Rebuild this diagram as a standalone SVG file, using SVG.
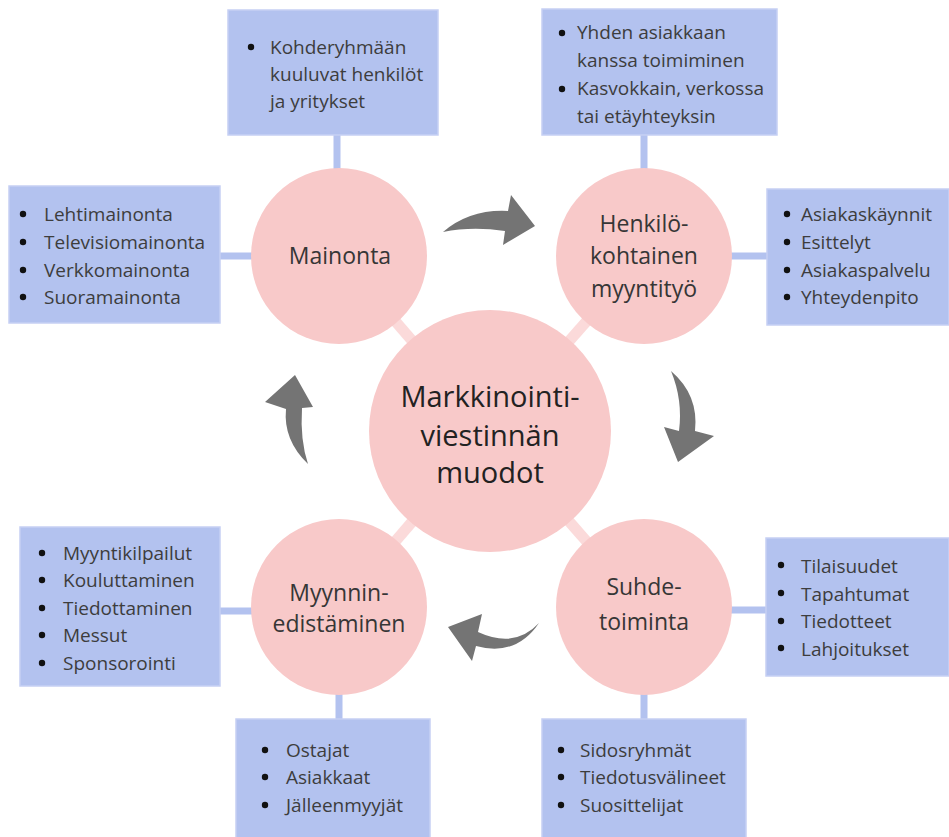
<svg xmlns="http://www.w3.org/2000/svg" width="949" height="837" viewBox="0 0 949 837">
<style>
.box{fill:#b3c2ef;stroke:#c6d0f4;stroke-width:1.5}
.bt{font-family:"Open Sans","Noto Sans",sans-serif;font-size:19px;fill:#3d3d3d}
.ct{font-family:"Open Sans","Noto Sans",sans-serif;font-size:23px;fill:#363636;text-anchor:middle}
.mt{font-family:"Open Sans","Noto Sans",sans-serif;font-size:29px;fill:#222;text-anchor:middle}
.circ{fill:#f8c9c9}
.link{stroke:#b3c2ef;stroke-width:7;stroke-linecap:round;fill:none}
.spoke{stroke:#fbdada;stroke-width:11;fill:none}
.arr{fill:#747474}
.dot{fill:#111}
</style>
<rect width="949" height="837" fill="#fff"/>
<g id="connectors">
<line class="spoke" x1="490" y1="431" x2="339" y2="256"/>
<line class="spoke" x1="490" y1="431" x2="644" y2="256"/>
<line class="spoke" x1="490" y1="431" x2="339" y2="607"/>
<line class="spoke" x1="490" y1="431" x2="644" y2="607"/>
<line class="link" x1="337" y1="135" x2="337" y2="172"/>
<line class="link" x1="644" y1="135" x2="644" y2="172"/>
<line class="link" x1="220" y1="256" x2="254" y2="256"/>
<line class="link" x1="729" y1="256" x2="767" y2="256"/>
<line class="link" x1="220" y1="611" x2="254" y2="611"/>
<line class="link" x1="729" y1="610" x2="767" y2="610"/>
<line class="link" x1="339" y1="691" x2="339" y2="719"/>
<line class="link" x1="644" y1="691" x2="644" y2="719"/>
<path class="arr" d="M443 232 Q470 209 508 211 L511 195 L535 226 L503 245 L505 231 Q472 226 443 232 Z"/>
<path class="arr" d="M671 371 Q699 395 695 431 L714 436 L678 462 L664 427 L679 431 Q683 400 671 371 Z"/>
<path class="arr" d="M539 623 Q515 649 478 632 L482 614 L448 627 L472 661 L476 646 Q516 657 539 623 Z"/>
<path class="arr" d="M308 464 Q283 440 286 409 L265 402 L295 375 L313 407 L302 408 Q300 440 308 464 Z"/>
</g>
<g id="center">
<circle class="circ" cx="490" cy="431" r="121"/>
<text class="mt" x="490" y="407">Markkinointi-</text>
<text class="mt" x="490" y="446">viestinnän</text>
<text class="mt" x="490" y="483">muodot</text>
</g>
<g id="mainonta">
<circle class="circ" cx="339" cy="256" r="88"/>
<text class="ct" x="340" y="264">Mainonta</text>
</g>
<g id="henkilo">
<circle class="circ" cx="644" cy="256" r="88"/>
<text class="ct" x="644" y="232">Henkilö-</text>
<text class="ct" x="644" y="264">kohtainen</text>
<text class="ct" x="644" y="297">myyntityö</text>
</g>
<g id="myynnin">
<circle class="circ" cx="339" cy="607" r="88"/>
<text class="ct" x="339" y="601">Myynnin-</text>
<text class="ct" x="339" y="632">edistäminen</text>
</g>
<g id="suhde">
<circle class="circ" cx="644" cy="607" r="88"/>
<text class="ct" x="644" y="595">Suhde-</text>
<text class="ct" x="644" y="630">toiminta</text>
</g>
<g id="box-kohde">
<rect class="box" x="228" y="10" width="210" height="125"/>
<circle class="dot" cx="251" cy="47" r="3.2"/>
<text class="bt" x="270" y="54">Kohderyhmään</text>
<text class="bt" x="270" y="81">kuuluvat henkilöt</text>
<text class="bt" x="270" y="108">ja yritykset</text>
</g>
<g id="box-asiakas">
<rect class="box" x="542" y="9" width="235" height="126"/>
<circle class="dot" cx="562" cy="33" r="3.2"/>
<text class="bt" x="577" y="39">Yhden asiakkaan</text>
<text class="bt" x="577" y="67">kanssa toimiminen</text>
<circle class="dot" cx="562" cy="89" r="3.2"/>
<text class="bt" x="577" y="95">Kasvokkain, verkossa</text>
<text class="bt" x="577" y="123">tai etäyhteyksin</text>
</g>
<g id="box-mainonta">
<rect class="box" x="9" y="186" width="211" height="137"/>
<circle class="dot" cx="23" cy="214" r="3.2"/>
<text class="bt" x="44" y="221">Lehtimainonta</text>
<circle class="dot" cx="23" cy="242" r="3.2"/>
<text class="bt" x="44" y="249">Televisiomainonta</text>
<circle class="dot" cx="23" cy="270" r="3.2"/>
<text class="bt" x="44" y="277">Verkkomainonta</text>
<circle class="dot" cx="23" cy="297" r="3.2"/>
<text class="bt" x="44" y="304">Suoramainonta</text>
</g>
<g id="box-henkilo">
<rect class="box" x="767" y="189" width="182" height="136"/>
<circle class="dot" cx="787" cy="214" r="3.2"/>
<text class="bt" x="801" y="221">Asiakaskäynnit</text>
<circle class="dot" cx="787" cy="242" r="3.2"/>
<text class="bt" x="801" y="249">Esittelyt</text>
<circle class="dot" cx="787" cy="270" r="3.2"/>
<text class="bt" x="801" y="277">Asiakaspalvelu</text>
<circle class="dot" cx="787" cy="297" r="3.2"/>
<text class="bt" x="801" y="304">Yhteydenpito</text>
</g>
<g id="box-myynnin">
<rect class="box" x="20" y="527" width="200" height="159"/>
<circle class="dot" cx="42" cy="553" r="3.2"/>
<text class="bt" x="63" y="560">Myyntikilpailut</text>
<circle class="dot" cx="42" cy="580" r="3.2"/>
<text class="bt" x="63" y="587">Kouluttaminen</text>
<circle class="dot" cx="42" cy="608" r="3.2"/>
<text class="bt" x="63" y="615">Tiedottaminen</text>
<circle class="dot" cx="42" cy="635" r="3.2"/>
<text class="bt" x="63" y="642">Messut</text>
<circle class="dot" cx="42" cy="663" r="3.2"/>
<text class="bt" x="63" y="670">Sponsorointi</text>
</g>
<g id="box-suhde">
<rect class="box" x="766" y="538" width="183" height="138"/>
<circle class="dot" cx="781" cy="565" r="3.2"/>
<text class="bt" x="801" y="573">Tilaisuudet</text>
<circle class="dot" cx="781" cy="593" r="3.2"/>
<text class="bt" x="801" y="601">Tapahtumat</text>
<circle class="dot" cx="781" cy="621" r="3.2"/>
<text class="bt" x="801" y="628">Tiedotteet</text>
<circle class="dot" cx="781" cy="648" r="3.2"/>
<text class="bt" x="801" y="656">Lahjoitukset</text>
</g>
<g id="box-ostajat">
<rect class="box" x="236" y="719" width="194" height="120"/>
<circle class="dot" cx="265" cy="750" r="3.2"/>
<text class="bt" x="286" y="757">Ostajat</text>
<circle class="dot" cx="265" cy="777" r="3.2"/>
<text class="bt" x="286" y="784">Asiakkaat</text>
<circle class="dot" cx="265" cy="805" r="3.2"/>
<text class="bt" x="286" y="812">Jälleenmyyjät</text>
</g>
<g id="box-sidos">
<rect class="box" x="542" y="719" width="204" height="120"/>
<circle class="dot" cx="561" cy="750" r="3.2"/>
<text class="bt" x="580" y="757">Sidosryhmät</text>
<circle class="dot" cx="561" cy="777" r="3.2"/>
<text class="bt" x="580" y="784">Tiedotusvälineet</text>
<circle class="dot" cx="561" cy="805" r="3.2"/>
<text class="bt" x="580" y="812">Suosittelijat</text>
</g>
</svg>
